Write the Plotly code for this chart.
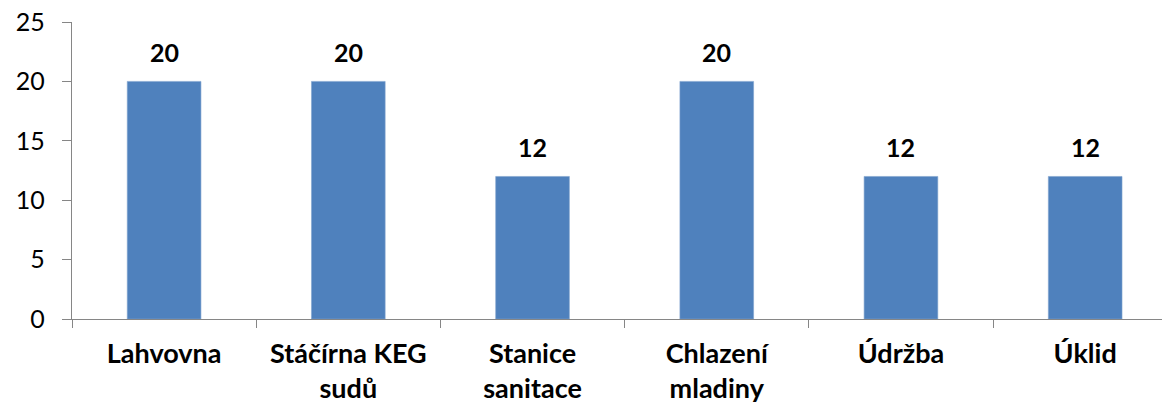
import plotly.graph_objects as go

categories = ["Lahvovna", "Stáčírna KEG<br>sudů", "Stanice<br>sanitace",
              "Chlazení<br>mladiny", "Údržba", "Úklid"]
values = [20, 20, 12, 20, 12, 12]
y_ticks = [0, 5, 10, 15, 20, 25]

BAR = "#4F81BD"
AXIS = "#868686"
FONT = "Lato"

fig = go.Figure(
    go.Bar(
        x=categories,
        y=values,
        marker=dict(color=BAR, line=dict(color="#7FA2CE", width=0.6)),
        width=0.4,
        hoverinfo="x+y",
    )
)

# value labels above each bar
for cat, val in zip(categories, values):
    fig.add_annotation(
        x=cat, y=val, text=f"<b>{val}</b>", showarrow=False,
        yanchor="bottom", yshift=12,
        font=dict(family=FONT, size=25, color="#000000"),
    )

fig.update_layout(
    width=1162,
    height=406,
    margin=dict(l=72, r=0, t=22, b=87),
    paper_bgcolor="white",
    plot_bgcolor="white",
    showlegend=False,
    font=dict(family=FONT, color="#000000"),
)

fig.update_xaxes(
    type="category",
    range=[-0.5, 5.417],
    showline=True, linecolor=AXIS, linewidth=1.3,
    ticks="outside", tickson="boundaries", ticklen=8, tickcolor=AXIS, tickwidth=1.3,
    showgrid=False, zeroline=False,
    tickfont=dict(family=FONT, size=27, color="#000000", weight="bold"),
    ticklabelstandoff=10,
)

fig.update_yaxes(
    range=[0, 25],
    tickvals=y_ticks,
    showline=True, linecolor=AXIS, linewidth=1.3,
    ticks="outside", ticklen=9, tickcolor=AXIS, tickwidth=1.3,
    showgrid=False, zeroline=False,
    tickfont=dict(family=FONT, size=25, color="#000000"),
    ticklabelstandoff=12,
)

fig.write_html("out.html")
